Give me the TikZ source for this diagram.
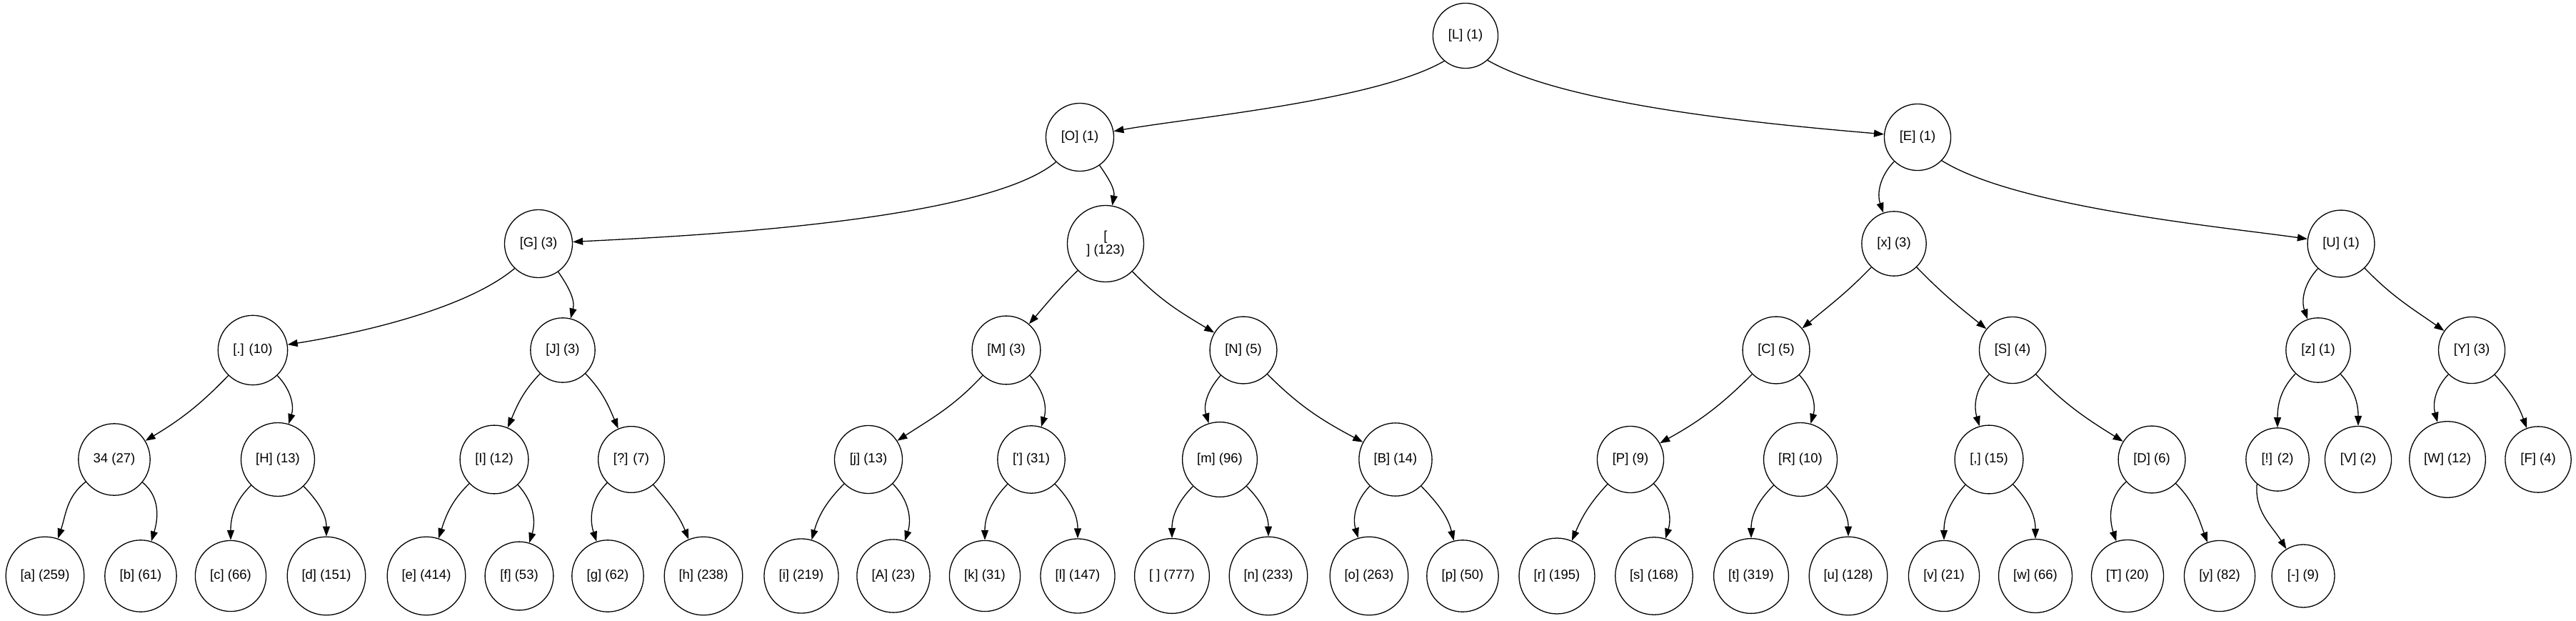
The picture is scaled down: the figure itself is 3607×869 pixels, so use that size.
\documentclass[tikz,border=0pt]{standalone}
\usepackage{fontspec}
\setmainfont{Liberation Sans}[Ligatures=TeXOff]
\usetikzlibrary{arrows.meta}

\tikzset{
	tnode/.style={circle, draw, line width=1.3pt, inner sep=15pt, font=\fontsize{18.5}{18.5}\selectfont},
	edge/.style={line width=1.3pt, -{Triangle[length=14pt,width=10pt]}}
}

\begin{document}
\begin{tikzpicture}[x=1pt,y=1pt]
	\useasboundingbox (0,0) rectangle (3607,-869);
	% levels 0 to 2
	\node[tnode] (L) at (2052,-50) {[L] (1)};
	\node[tnode] (O) at (1512,-192) {[O] (1)};
	\node[tnode] (E) at (2685,-192) {[E] (1)};
	\node[tnode] (G) at (754,-341) {[G] (3)};
	\node[tnode, inner sep=0pt, minimum size=107pt, align=center] (nl) at (1548,-341) {[\\] (123)};
	\node[tnode] (X) at (2652,-341) {[x] (3)};
	\node[tnode] (U) at (3278,-341) {[U] (1)};
	% level 3
	\node[tnode] (dot) at (354,-490) {[.] (10)};
	\node[tnode] (J) at (788,-490) {[J] (3)};
	\node[tnode] (M) at (1409,-490) {[M] (3)};
	\node[tnode] (N) at (1741,-490) {[N] (5)};
	\node[tnode] (C) at (2487,-490) {[C] (5)};
	\node[tnode] (S) at (2818,-490) {[S] (4)};
	\node[tnode] (Z) at (3246,-490) {[z] (1)};
	\node[tnode] (Y) at (3461,-490) {[Y] (3)};
	% level 4
	\node[tnode] (n34) at (160,-643) {34 (27)};
	\node[tnode] (H) at (389,-643) {[H] (13)};
	\node[tnode] (I) at (692,-643) {[I] (12)};
	\node[tnode] (q) at (884,-643) {[?] (7)};
	\node[tnode] (jj) at (1216,-643) {[j] (13)};
	\node[tnode] (apos) at (1444,-643) {['] (31)};
	\node[tnode] (mm) at (1708,-643) {[m] (96)};
	\node[tnode] (B) at (1954,-643) {[B] (14)};
	\node[tnode] (P) at (2283,-643) {[P] (9)};
	\node[tnode] (R) at (2521,-643) {[R] (10)};
	\node[tnode] (comma) at (2785,-643) {[,] (15)};
	\node[tnode] (D) at (3013,-643) {[D] (6)};
	\node[tnode] (bang) at (3189,-643) {[!] (2)};
	\node[tnode] (V) at (3302,-643) {[V] (2)};
	\node[tnode] (W) at (3427,-643) {[W] (12)};
	\node[tnode] (F) at (3554,-643) {[F] (4)};
	% leaves
	\node[tnode] (la) at (63,-806) {[a] (259)};
	\node[tnode] (lb) at (197,-806) {[b] (61)};
	\node[tnode] (lc) at (323,-806) {[c] (66)};
	\node[tnode] (ld) at (457,-806) {[d] (151)};
	\node[tnode] (le) at (597,-806) {[e] (414)};
	\node[tnode] (lf) at (727,-806) {[f] (53)};
	\node[tnode] (lg) at (851,-806) {[g] (62)};
	\node[tnode] (lh) at (985,-806) {[h] (238)};
	\node[tnode] (li) at (1122,-806) {[i] (219)};
	\node[tnode] (lA) at (1251,-806) {[A] (23)};
	\node[tnode] (lk) at (1379,-806) {[k] (31)};
	\node[tnode] (ll) at (1509,-806) {[l] (147)};
	\node[tnode] (lsp) at (1641,-806) {[\ ] (777)};
	\node[tnode] (ln) at (1776,-806) {[n] (233)};
	\node[tnode] (lo) at (1917,-806) {[o] (263)};
	\node[tnode] (lp) at (2048,-806) {[p] (50)};
	\node[tnode] (lr) at (2180,-806) {[r] (195)};
	\node[tnode] (ls) at (2316,-806) {[s] (168)};
	\node[tnode] (lt) at (2452,-806) {[t] (319)};
	\node[tnode] (lu) at (2588,-806) {[u] (128)};
	\node[tnode] (lv) at (2722,-806) {[v] (21)};
	\node[tnode] (lw) at (2850,-806) {[w] (66)};
	\node[tnode] (lT) at (2979,-806) {[T] (20)};
	\node[tnode] (ly) at (3108,-806) {[y] (82)};
	\node[tnode] (dash) at (3225,-806) {[-] (9)};

	% long edges
	\draw[edge] (L.-130) to[out=-150, in=10, looseness=0.6] (O);
	\draw[edge] (L.-48) to[out=-30, in=175, looseness=0.6] (E);
	\draw[edge] (O.-134) to[out=-140, in=3, looseness=0.5] (G);
	\draw[edge] (G.-134) to[out=-140, in=9, looseness=0.7] (dot);
	\draw[edge] (E.-44) to[out=-32, in=172, looseness=0.6] (U);
	% other edges: parent/child/out/in
	\foreach \p/\c/\o/\i in {
		O/nl/-55/80, E/X/-134/109,
		G/J/-55/76, nl/M/-136/49, nl/N/-46/149,
		X/C/-134/40, X/S/-46/141, U/Z/-133/109, U/Y/-46/145,
		dot/n34/-134/31, dot/H/-46/73, J/I/-134/67, J/q/-46/113,
		M/jj/-133/33, M/apos/-47/73, N/mm/-132/107, N/B/-45/152,
		C/P/-135/29, C/R/-47/74, S/comma/-134/106, S/D/-46/148,
		Z/bang/-134/90, Z/V/-47/90, Y/W/-134/105, Y/F/-47/110,
		n34/la/-142/71, n34/lb/-39/73, H/lc/-136/90, H/ld/-46/90,
		I/le/-136/72, I/lf/-47/73, q/lg/-136/108, q/lh/-49/112,
		jj/li/-135/74, jj/lA/-45/72, apos/lk/-134/90, apos/ll/-46/90,
		mm/lsp/-135/90, mm/ln/-45/90, B/lo/-134/106, B/lp/-46/104,
		P/lr/-133/67, P/ls/-46/73, R/lt/-136/90, R/lu/-46/90,
		comma/lv/-133/90, comma/lw/-46/90, D/lT/-139/108, D/ly/-45/110}
		\draw[edge] (\p) to[out=\o,in=\i] (\c);
	\draw[edge] (bang.-130) to[out=-95,in=122] (dash);
\end{tikzpicture}
\end{document}
